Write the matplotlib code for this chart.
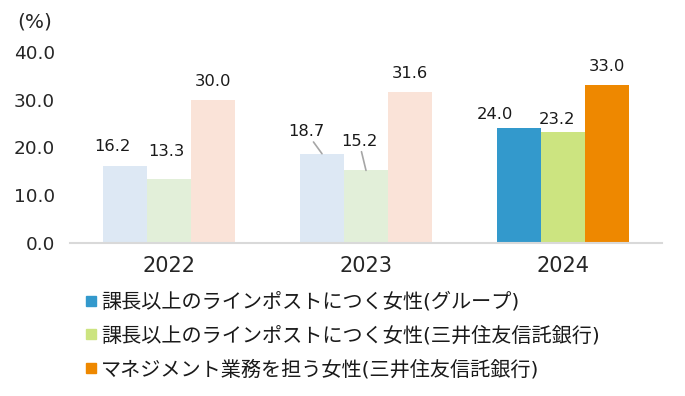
import matplotlib
matplotlib.use("Agg")
import matplotlib.pyplot as plt
from matplotlib.lines import Line2D
import numpy as np

plt.rcParams['font.family'] = ['DejaVu Sans', 'Noto Sans CJK JP']

years = ['2022', '2023', '2024']
series_names = ['課長以上のラインポストにつく女性(グループ)',
                '課長以上のラインポストにつく女性(三井住友信託銀行)',
                'マネジメント業務を担う女性(三井住友信託銀行)']
group_vals = [16.2, 18.7, 24.0]
bank_line_vals = [13.3, 15.2, 23.2]
mgmt_vals = [30.0, 31.6, 33.0]
yticks = [0, 10, 20, 30, 40]

pale_colors = ['#dde8f4', '#e2efd9', '#fae3d8']
full_colors = ['#3399cc', '#cce480', '#ee8800']

# label offsets in pixels (dx, dy) from bar top center
offsets = [
    [(-12, 19), (-16, 22), (-24, 14)],
    [(-2, 28), (-7, 29), (-6, 13)],
    [(0, 18), (0, 19), (0, 19)],
]
leader = [[False, True, False], [False, True, False], [False, False, False]]

W, H = 685, 396
fig = plt.figure(figsize=(W / 100, H / 100), dpi=100)
ax = fig.add_axes([70 / W, 1 - 243 / H, (662 - 70) / W, (243 - 52) / H])

x = np.arange(len(years))
bw = 0.223
all_vals = [group_vals, bank_line_vals, mgmt_vals]
for s, vals in enumerate(all_vals):
    xs = x + (s - 1) * bw
    cols = [pale_colors[s], pale_colors[s], full_colors[s]]
    ax.bar(xs, vals, width=bw, color=cols, zorder=2)
    for i, v in enumerate(vals):
        dx, dy = offsets[s][i]
        kw = dict(textcoords='offset pixels', ha='center', va='center',
                  fontsize=11.8, color='#1a1a1a')
        if leader[s][i]:
            kw['arrowprops'] = dict(arrowstyle='-', color='#a6a6a6', lw=1.2,
                                    shrinkA=0, shrinkB=0)
        ax.annotate(f'{v:.1f}', xy=(xs[i], v), xytext=(dx, dy), **kw)

ax.set_xlim(-0.5, 2.5)
ax.set_ylim(0, 40)
ax.set_yticks(yticks)
ax.set_yticklabels([f'{t:.1f}' for t in yticks], fontsize=13.3, color='#262626')
ax.set_xticks(x)
ax.set_xticklabels(years, fontsize=15, color='#262626')
ax.tick_params(axis='y', length=0, pad=11)
ax.tick_params(axis='x', length=0, pad=9)
for sp in ['top', 'right', 'left']:
    ax.spines[sp].set_visible(False)
ax.spines['bottom'].set_color('#d9d9d9')
ax.spines['bottom'].set_linewidth(1.5)
ax.spines['bottom'].set_zorder(3)

fig.text(17 / W, 1 - 22 / H, '(%)', fontsize=14.5, color='#262626', ha='left', va='center')

handles = [Line2D([], [], marker='s', linestyle='none', markersize=7,
                  markerfacecolor=c, markeredgecolor=c) for c in full_colors]
fig.legend(handles, series_names, loc='upper left', bbox_to_anchor=(85 / W, 1 - 292 / H),
           frameon=False, fontsize=14.5, handlelength=0.55, handletextpad=0.25,
           labelspacing=0.70, borderpad=0, borderaxespad=0, labelcolor='#1a1a1a')

fig.savefig('out.png', dpi=100)
